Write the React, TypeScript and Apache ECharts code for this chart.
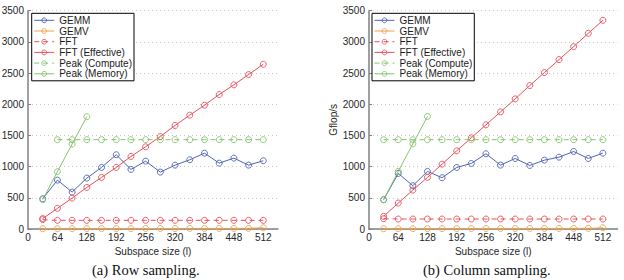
import React, { useEffect, useRef } from "react";
import * as echarts from "echarts";

const sizes = [32, 64, 96, 128, 160, 192, 224, 256, 288, 320, 352, 384, 416, 448, 480, 512];
const xTicks = [0, 64, 128, 192, 256, 320, 384, 448, 512];

// (a) Row sampling
const rowGEMM = [485, 784, 592, 816, 987, 1190, 955, 1088, 912, 1024, 1110, 1216, 1056, 1136, 1024, 1094];
const rowGEMV = [4, 5, 5, 6, 6, 7, 7, 8, 8, 8, 9, 9, 9, 10, 10, 20];
const rowFFT = [150, 139, 139, 139, 139, 139, 139, 139, 139, 139, 139, 139, 139, 139, 139, 139];
const rowFFTEff = [168, 331, 496, 667, 827, 987, 1163, 1318, 1483, 1660, 1825, 1985, 2156, 2311, 2476, 2641];
const rowPeakCompute = [null, 1432, 1432, 1432, 1432, 1432, 1432, 1432, 1432, 1432, 1432, 1432, 1432, 1432, 1432, 1432];
const rowPeakMemory = [470, 920, 1362, 1800];

// (b) Column sampling
const colGEMM = [470, 891, 694, 923, 822, 987, 1051, 1206, 1024, 1131, 1019, 1104, 1152, 1243, 1131, 1216];
const colGEMV = [4, 5, 5, 6, 6, 7, 7, 8, 8, 8, 9, 9, 9, 10, 10, 20];
const colFFT = [165, 160, 160, 160, 160, 160, 160, 160, 160, 160, 160, 160, 160, 160, 160, 160];
const colFFTEff = [203, 416, 624, 827, 1040, 1254, 1462, 1670, 1878, 2086, 2300, 2508, 2716, 2924, 3137, 3346];
const colPeakCompute = [1432, 1432, 1432, 1432, 1432, 1432, 1432, 1432, 1432, 1432, 1432, 1432, 1432, 1432, 1432, 1432];
const colPeakMemory = [470, 923, 1366, 1804];

const seriesNames = ["GEMM", "GEMV", "FFT", "FFT (Effective)", "Peak (Compute)", "Peak (Memory)"];
const colors = ["#4f63b3", "#f2a04a", "#e8505a", "#e8505a", "#86c46c", "#86c46c"];
const dashed = [false, false, true, false, true, false];
const captions = ["(a) Row sampling.", "(b) Column sampling."];

const FONT = "Liberation Sans";

export default function App() {
  const ref = useRef<HTMLDivElement>(null);
  useEffect(() => {
    if (!ref.current) return;
    const chart = echarts.init(ref.current, undefined, { renderer: "svg" });
    const panels = [
      [rowGEMM, rowGEMV, rowFFT, rowFFTEff, rowPeakCompute, rowPeakMemory],
      [colGEMM, colGEMV, colFFT, colFFTEff, colPeakCompute, colPeakMemory],
    ];
    const grids = [
      { left: 28, right: 346, top: 10.7, bottom: 51, containLabel: false, outerBoundsMode: "none" },
      { left: 369, right: 6.5, top: 10.7, bottom: 51, containLabel: false, outerBoundsMode: "none" },
    ];
    const xAxes = grids.map((_, i) => ({
      type: "value",
      gridIndex: i,
      min: 0,
      max: 544,
      interval: 64,
      name: "Subspace size (l)",
      nameLocation: "middle",
      nameGap: 13,
      nameTextStyle: { fontFamily: FONT, fontSize: 10, color: "#262626" },
      axisLine: { show: true, lineStyle: { color: "#808080", width: 1.5 } },
      axisTick: { show: false },
      splitLine: { show: false },
      axisLabel: {
        fontFamily: FONT,
        fontSize: 10,
        color: "#262626",
        margin: 3,
        formatter: (v: number) => (xTicks.includes(v) ? String(v) : ""),
      },
    }));
    const yAxes = grids.map((_, i) => ({
      type: "value",
      gridIndex: i,
      min: 0,
      max: 3500,
      interval: 500,
      name: "Gflop/s",
      nameLocation: "middle",
      nameGap: 24,
      nameTextStyle: { fontFamily: FONT, fontSize: 10, color: "#262626" },
      axisLine: { show: true, lineStyle: { color: "#808080", width: 1.5 } },
      axisTick: { show: true, inside: true, length: 3, lineStyle: { color: "#808080" } },
      splitLine: { show: true, lineStyle: { color: "#c8c8c8", type: [1, 3], width: 1 } },
      axisLabel: {
        fontFamily: FONT,
        fontSize: 10,
        color: "#262626",
        margin: 4,
        formatter: (v: number) => String(v),
      },
    }));
    const series: any[] = [];
    panels.forEach((panel, pi) => {
      panel.forEach((vals, si) => {
        series.push({
          type: "line",
          name: seriesNames[si],
          xAxisIndex: pi,
          yAxisIndex: pi,
          data: (vals as (number | null)[]).map((v, k) => [sizes[k], v]),
          symbol: "circle",
          symbolSize: 6,
          showSymbol: true,
          connectNulls: false,
          color: colors[si],
          itemStyle: { color: "transparent", borderColor: colors[si], borderWidth: 0.9 },
          lineStyle: { color: colors[si], width: 1, type: dashed[si] ? [5, 4] : "solid" },
          emphasis: { disabled: true },
          z: si === 1 ? 5 : 3,
        });
      });
    });
    const legends = [31.7, 372].map((left) => ({
      data: seriesNames,
      orient: "vertical",
      left,
      top: 13.3,
      itemWidth: 20,
      itemHeight: 6,
      itemGap: 0.7,
      padding: [2, 2, 2, 2],
      borderColor: "#000",
      borderWidth: 1,
      backgroundColor: "#fff",
      selectedMode: false,
      itemStyle: { color: "transparent", borderWidth: 0.9 },
      lineStyle: { width: 1 },
      textStyle: { fontFamily: FONT, fontSize: 10, color: "#1a1a1a", lineHeight: 10 },
    }));
    chart.setOption({
      animation: false,
      backgroundColor: "#fff",
      grid: grids,
      xAxis: xAxes,
      yAxis: yAxes,
      legend: legends,
      series,
      graphic: [
        {
          type: "text",
          left: 92,
          top: 262,
          style: { text: captions[0], font: "14.5px 'Liberation Serif'", fill: "#111" },
        },
        {
          type: "text",
          left: 423,
          top: 262,
          style: { text: captions[1], font: "14.5px 'Liberation Serif'", fill: "#111" },
        },
      ],
    });
    return () => chart.dispose();
  }, []);
  return (
    <div
      ref={ref}
      style={{ position: "fixed", left: 0, top: 0, width: 624, height: 280 }}
    />
  );
}
